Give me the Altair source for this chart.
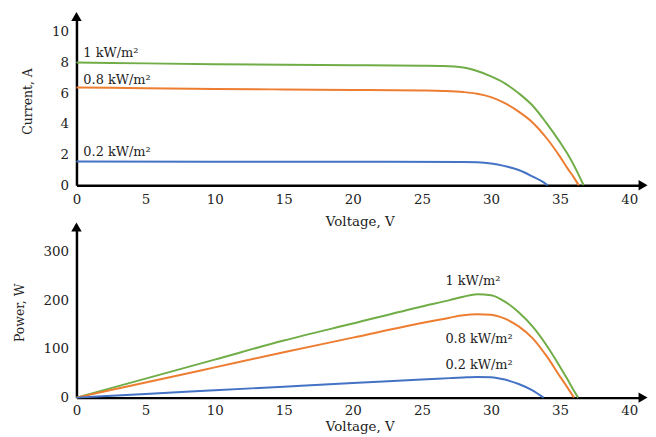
import altair as alt
import pandas as pd

# ---------------- data ----------------
series_names = ["1 kW/m²", "0.8 kW/m²", "0.2 kW/m²"]
series_colors = ["#70ad47", "#ed7d31", "#4472c4"]

# I-V curves
vi_green = [0, 5, 10, 15, 20, 25, 26.5, 28, 29, 30, 31, 32, 33, 34, 35, 35.5, 36, 36.7]
i_green = [8.0, 7.95, 7.9, 7.86, 7.83, 7.8, 7.78, 7.68, 7.45, 7.1, 6.65, 6.0, 5.2, 4.07, 2.8, 2.1, 1.3, 0]
vi_orange = [0, 5, 10, 15, 20, 25, 26.5, 28, 29, 30, 31, 32, 33, 34, 35, 35.5, 36, 36.35]
i_orange = [6.38, 6.33, 6.28, 6.25, 6.22, 6.18, 6.15, 6.08, 5.97, 5.75, 5.35, 4.8, 4.1, 3.1, 1.85, 1.15, 0.5, 0]
vi_blue = [0, 10, 20, 28, 29, 30, 31, 32, 33, 33.6, 34.1]
i_blue = [1.55, 1.54, 1.53, 1.52, 1.5, 1.42, 1.25, 1.0, 0.58, 0.3, 0]

# P-V curves
vp_green = [0, 5, 10, 15, 20, 25, 27, 28, 29, 30, 31, 32, 33, 34, 35, 35.5, 36, 36.3]
p_green = [0, 39, 78, 117, 152, 187, 200, 207, 212, 210, 197, 175, 146, 108, 63, 39, 14, 0]
vp_orange = [0, 5, 10, 15, 20, 25, 27, 28, 29, 30, 31, 32, 33, 34, 35, 35.5, 36]
p_orange = [0, 31, 62, 93, 123, 153, 164, 169, 171, 170, 162, 146, 122, 86, 43, 22, 0]
vp_blue = [0, 5, 10, 15, 20, 25, 27, 28, 29, 30, 31, 32, 33, 33.8]
p_blue = [0, 7.6, 15, 22.5, 30, 37, 40, 41.5, 42.5, 42, 37, 28, 15, 0]

# annotation positions (data units)
label_v_top = [0.5, 0.5, 0.5]
label_i_top = [8.38, 6.62, 1.9]
label_v_bottom = [26.7, 26.7, 26.7]
label_p_bottom = [231, 112, 58]

x_ticks = [0, 5, 10, 15, 20, 25, 30, 35, 40]
i_ticks = [0, 2, 4, 6, 8, 10]
p_ticks = [0, 100, 200, 300]

X_MAX = 41
I_MAX = 11
P_MAX = 350

FONT = "DejaVu Serif"
TXT = "#222222"

# ---------------- tables ----------------
def long(xs_list, ys_list, yname):
    rows = []
    for name, xs, ys in zip(series_names, xs_list, ys_list):
        for i, (x, y) in enumerate(zip(xs, ys)):
            rows.append({"series": name, "V": x, yname: y, "order": i})
    return pd.DataFrame(rows)

iv = long([vi_green, vi_orange, vi_blue], [i_green, i_orange, i_blue], "I")
pv = long([vp_green, vp_orange, vp_blue], [p_green, p_orange, p_blue], "P")
lab_top = pd.DataFrame({"series": series_names, "V": label_v_top, "I": label_i_top})
lab_bot = pd.DataFrame({"series": series_names, "V": label_v_bottom, "P": label_p_bottom})

color = alt.Color("series:N", scale=alt.Scale(domain=series_names, range=series_colors), legend=None)

def panel(df, lab, yname, ytitle, ymax, yticks, height, xtitle_pad, xlabel_pad):
    x = alt.X("V:Q", scale=alt.Scale(domain=[0, X_MAX], nice=False),
              axis=alt.Axis(values=x_ticks, title="Voltage, V", titlePadding=xtitle_pad,
                            labelPadding=xlabel_pad, labelOverlap=False, labelFlush=False))
    y = alt.Y(f"{yname}:Q", scale=alt.Scale(domain=[0, ymax], nice=False),
              axis=alt.Axis(values=yticks, title=ytitle, titleFontSize=12.5, titlePadding=17,
                            labelPadding=8, labelOverlap=False, labelFlush=False))
    lines = alt.Chart(df).mark_line(interpolate="monotone", strokeWidth=2).encode(
        x=x, y=y, color=color, order="order:Q", detail="series:N")
    labels = alt.Chart(lab).mark_text(align="left", baseline="alphabetic", font=FONT,
                                      fontSize=13, color=TXT).encode(
        x=x, y=y, text="series:N")
    arr_up = alt.Chart(pd.DataFrame({"V": [0], yname: [ymax]})).mark_point(
        shape="triangle-up", filled=True, color="black", opacity=1, size=110).encode(
        x=x, y=y)
    arr_right = alt.Chart(pd.DataFrame({"V": [X_MAX], yname: [0]})).mark_point(
        shape="triangle-right", filled=True, color="black", opacity=1, size=110).encode(
        x=x, y=y)
    return alt.layer(lines, labels, arr_up, arr_right).properties(width=571, height=height)

top = panel(iv, lab_top, "I", "Current, A", I_MAX, i_ticks, 170, 9, 7)
bottom = panel(pv, lab_bot, "P", "Power, W", P_MAX, p_ticks, 172, 3, 6)

chart = alt.vconcat(top, bottom, spacing=42, bounds="flush").properties(
    padding={"left": 5, "top": 2, "right": 0, "bottom": 0}
).configure_view(strokeWidth=0).configure_axis(
    domainColor="black", domainWidth=2.5, ticks=False, grid=False, labelOverlap=False,
    labelFont=FONT, labelFontSize=13.5, labelColor=TXT,
    titleFont=FONT, titleFontSize=13.5, titleFontWeight="normal", titleColor=TXT,
)

chart.save("out.html", embed_options={"renderer": "svg", "actions": False})
